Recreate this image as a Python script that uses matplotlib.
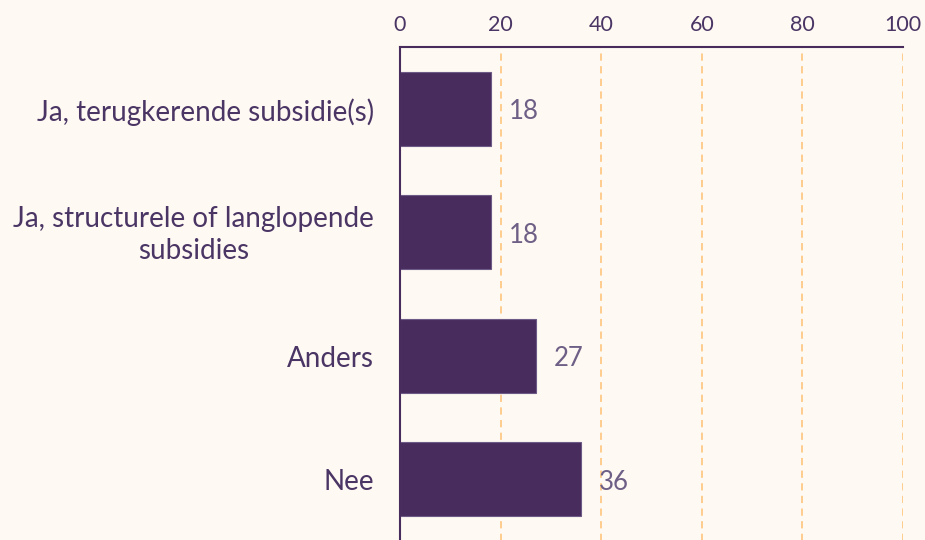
import matplotlib
matplotlib.use("Agg")
import matplotlib.pyplot as plt
from matplotlib.transforms import offset_copy

categories = ["Ja, terugkerende subsidie(s)",
              "Ja, structurele of langlopende\nsubsidies",
              "Anders",
              "Nee"]
values = [18, 18, 27, 36]
xticks = [0, 20, 40, 60, 80, 100]

bg = "#fef9f2"
purple = "#482c5e"
grid_c = "#ffc985"
label_c = "#4a3565"

fig = plt.figure(figsize=(9.25, 5.4), dpi=100, facecolor=bg)
ax = fig.add_axes([400/925, -1/540, 503/925, 494/540], facecolor=bg)

y = list(range(len(categories)))
ax.barh(y, values, height=0.6, color=purple, edgecolor="#6e5a86", linewidth=0.8, zorder=3)
ax.set_ylim(len(categories) - 0.5, -0.5)
ax.set_xlim(0, 100)
ax.set_xticks(xticks)
ax.xaxis.tick_top()
ax.tick_params(axis="x", length=0, pad=8.5, labelsize=15.5, labelcolor=label_c)
for lbl in ax.get_xticklabels():
    lbl.set_fontfamily("Lato")
ax.set_yticks([])
for t in xticks[1:]:
    ax.axvline(t, color=grid_c, lw=1.3, ls=(0, (4, 3)), zorder=1)

for s in ["right", "bottom"]:
    ax.spines[s].set_visible(False)
for s in ["top", "left"]:
    ax.spines[s].set_color(purple)
    ax.spines[s].set_linewidth(1.5)
    ax.spines[s].set_zorder(4)

tr = offset_copy(ax.transData, fig=fig, y=-3, units="dots")
for yi, cat in zip(y, categories):
    ax.text(-5.1, yi, cat, ha="right", va="center", multialignment="center",
            fontsize=20.0, color=label_c, family="Lato", linespacing=1.3,
            transform=tr)

for yi, v in zip(y, values):
    ax.text(v + 3.6, yi, str(v), ha="left", va="center", fontsize=18.5,
            color="#6e5f86", family="Lato", fontweight="normal", transform=tr)

fig.savefig("out.png", dpi=100, facecolor=bg)
